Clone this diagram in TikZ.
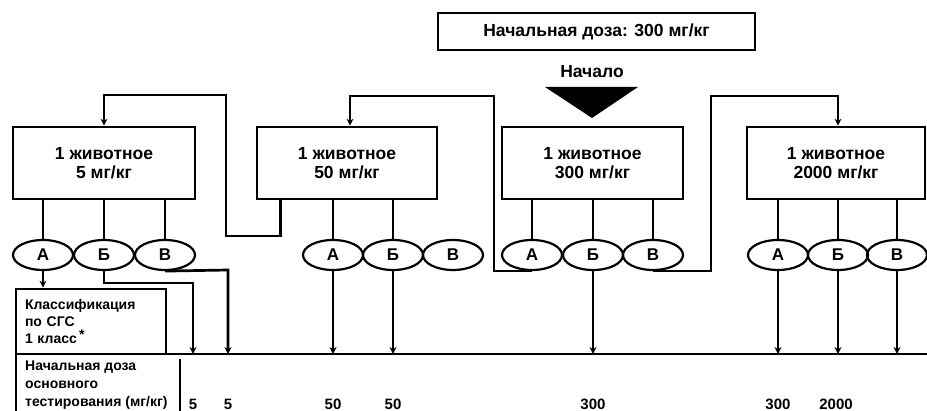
\documentclass[tikz,border=0pt]{standalone}
\usepackage{fontspec}
\setmainfont{Liberation Sans}
\usetikzlibrary{shapes.geometric,arrows.meta,calc}
\begin{document}
\begin{tikzpicture}[x=1pt,y=-1pt,
  lw/.style={line width=2.7pt},
  bigfont/.style={font=\bfseries\fontsize{17.5}{19.5}\selectfont},
  box/.style={draw,lw,rectangle,minimum width=#1,minimum height=72pt,inner sep=0pt,align=center,bigfont},
  ell/.style={draw,line width=2.2pt,ellipse,minimum width=60pt,minimum height=30pt,inner sep=0pt,font=\bfseries\fontsize{17}{18}\selectfont},
  arr/.style={lw,-{Stealth[length=7pt,width=7pt]}},
  con/.style={lw},
  num/.style={font=\bfseries\fontsize{15}{18}\selectfont},
  small/.style={font=\bfseries\fontsize{14}{17}\selectfont,align=left}]
\useasboundingbox (0,0) rectangle (927,411);

% top
\node[draw,lw,minimum width=317pt,minimum height=37pt,inner sep=0pt,bigfont] (top) at (596.5,31.5) {Начальная доза: 300 мг/кг};
\node[bigfont,inner sep=0pt] (start) at (592,72) {Начало};
\fill (545,87) -- (638,87) -- (592,118) -- cycle;

% boxes
\node[box=182pt] (b1) at (104,163) {1 животное\\5 мг/кг};
\node[box=180pt] (b2) at (347,163) {1 животное\\50 мг/кг};
\node[box=181pt] (b3) at (592.5,163) {1 животное\\300 мг/кг};
\node[box=178pt] (b4) at (836,163) {1 животное\\2000 мг/кг};

% ellipses
\foreach \n/\x/\t in {e1a/43/А,e1b/104/Б,e1c/165/В,
                      e2a/333/А,e2b/393/Б,e2c/453/В,
                      e3a/532/А,e3b/593/Б,e3c/653/В,
                      e4a/778/А,e4b/838/Б,e4c/897/В}
  \node[ell] (\n) at (\x,255) {\t};

% box -> ellipse
\foreach \b/\e in {b1/e1a,b1/e1b,b1/e1c,b2/e2a,b2/e2b,b3/e3a,b3/e3b,b3/e3c,b4/e4a,b4/e4b,b4/e4c}
  \draw[con] (\b.south -| \e.north) -- (\e.north);

% loops
\coordinate (c1a) at (226,236);
\coordinate (c1b) at (226,95);
\draw[arr] ([xshift=25pt]b2.south west) |- (c1a) -- (c1b) -| (b1.north);
\coordinate (c2a) at (494,96);
\draw[arr] (e3a.south) -| (c2a) -| ([xshift=3pt]b2.north);
\coordinate (c3a) at (711,96);
\draw[arr] (e3c.south) -| (c3a) -| ([xshift=2pt]b4.north);

% classification box
\node[draw,lw,minimum width=150pt,minimum height=65pt,text width=132pt,inner xsep=9pt,inner ysep=0pt,small] (cls) at (91,321.5) {Классификация\\по СГС\\1 класс\,\raisebox{0.5ex}{*}};
\draw[arr] (e1a.south) -- (e1a.south |- cls.north);

% axis
\coordinate (axl) at (16,354);
\coordinate (axr) at (927,354);
\coordinate (axb) at (16,411);
\coordinate (dvt) at (180,359);
\coordinate (dvb) at (180,411);
\draw[con] (axl) -- (axr);
\draw[con] (axl) -- (axb);
\draw[con] (dvt) -- (dvb);

\coordinate (c4) at (193,283);
\draw[arr] (e1b.south) |- (c4) -- (c4 |- axl);
\coordinate (c5) at (228,270);
\draw[arr] (e1c.south) -- (c5) -- (c5 |- axl);
\foreach \e in {e2a,e2b,e3b,e4a,e4b,e4c}
  \draw[arr] (\e.south) -- (\e.south |- axl);

% bottom texts
\node[small,anchor=west,inner sep=0pt,font=\bfseries\fontsize{14}{18}\selectfont] (st) at (25,385) {Начальная доза\\основного\\тестирования (мг/кг)};
\foreach \n/\x/\t in {n1/193/5,n2/228/5,n3/333/50,n4/393/50,n5/593/300,n6/778/300,n7/836/2000}
  \node[num,inner sep=0pt] (\n) at (\x,404) {\t};
\end{tikzpicture}
\end{document}
